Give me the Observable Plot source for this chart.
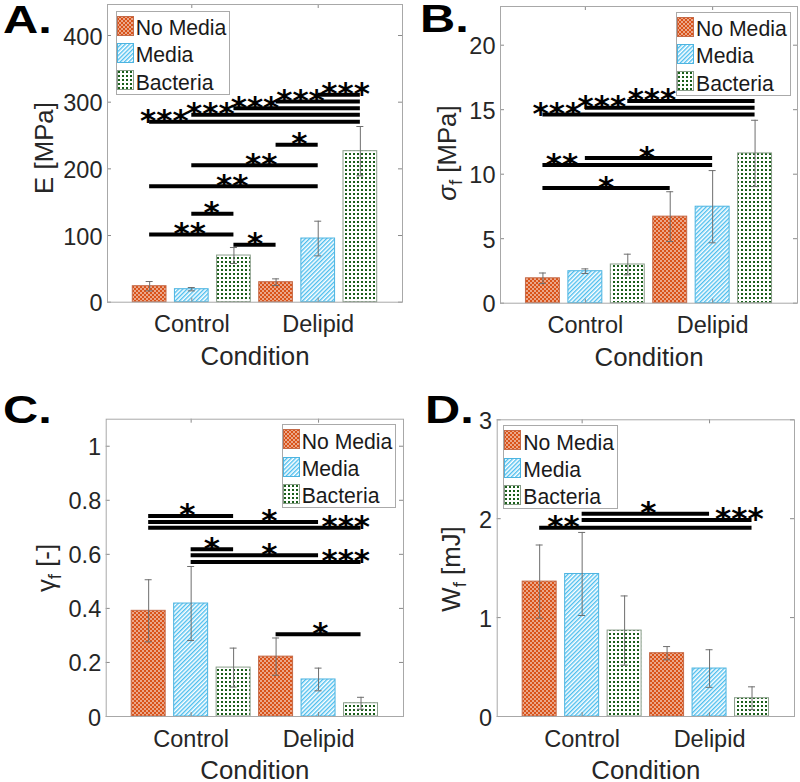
<!DOCTYPE html>
<html><head><meta charset="utf-8">
<script src="https://cdn.jsdelivr.net/npm/d3@7"></script>
<script src="https://cdn.jsdelivr.net/npm/@observablehq/plot@0.6"></script>
<style>
html,body{margin:0;padding:0;background:#fff;}
#fig{position:relative;width:800px;height:782px;overflow:hidden;font-family:"Liberation Sans",Arial,sans-serif;color:#262626;}
.letter{position:absolute;font-weight:bold;font-size:39px;line-height:1;color:#000;transform:scaleX(1.25);transform-origin:left top;white-space:nowrap;}
.ylab{position:absolute;font-size:25.8px;line-height:1;white-space:nowrap;transform:translate(-50%,-50%) rotate(-90deg);color:#262626;}
.ylab sub{font-size:0.72em;vertical-align:baseline;position:relative;top:0.3em;line-height:0;}
.legend{position:absolute;background:#fff;border:1px solid #aaa;box-sizing:border-box;}
.legend .sw{position:absolute;left:0px;}
.legend .lt{position:absolute;left:19px;font-size:21.2px;line-height:1;white-space:nowrap;color:#1a1a1a;}
</style></head>
<body>
<svg width="0" height="0" style="position:absolute;left:0;top:0">
  <defs>
    <pattern id="pat0" patternUnits="userSpaceOnUse" width="4" height="4">
      <rect width="4" height="4" fill="#D95319"/>
      <rect x="0.3" y="0.3" width="1.4" height="1.4" fill="#fff"/>
      <rect x="2.3" y="2.3" width="1.4" height="1.4" fill="#fff"/>
    </pattern>
    <pattern id="pat1" patternUnits="userSpaceOnUse" width="3" height="3" patternTransform="rotate(45)">
      <rect width="3" height="3" fill="#fff"/>
      <rect width="1.4" height="3" fill="#4DBEEE"/>
    </pattern>
    <pattern id="pat2" patternUnits="userSpaceOnUse" width="4" height="4">
      <rect width="4" height="4" fill="#fff"/>
      <rect x="1" y="1" width="2" height="2" fill="#1a5e1a"/>
    </pattern>
  </defs>
</svg>
<div id="fig"></div>
<script>
// ---------- data ----------
const groups = ["No Media", "Media", "Bacteria"];
const conditions = ["Control", "Delipid"];
// bar order: Control (No Media, Media, Bacteria), Delipid (No Media, Media, Bacteria)
const E_mean = [24, 19.5, 70, 30, 95.5, 226.5];
const E_err  = [7, 2.5, 12, 5, 26, 37];
const E_ticks = [0, 100, 200, 300, 400];
// [from bar, to bar, y, label, star position]
const E_sig = [
  [0, 2, 101.5, "**", 0.95], [1, 2, 132.5, "*", 1.47], [2, 3, 86, "*", 2.5],
  [0, 4, 174, "**", 1.96], [1, 4, 205.5, "**", 2.65], [3, 4, 236, "*", 3.55],
  [0, 5, 270.8, "***", 0.35], [1, 5, 281, "***", 1.44], [2, 5, 291, "***", 2.5],
  [3, 5, 301, "***", 3.58], [4, 5, 311, "***", 4.65]
];
const S_mean = [1.93, 2.48, 3.0, 6.71, 7.48, 11.61];
const S_err  = [0.41, 0.18, 0.8, 1.93, 2.8, 2.57];
const S_ticks = [0, 5, 10, 15, 20];
const S_sig = [
  [0, 3, 8.93, "*", 1.49], [0, 4, 10.71, "**", 0.45], [1, 4, 11.25, "*", 2.45],
  [0, 5, 14.63, "***", 0.33], [1, 5, 15.15, "***", 1.39], [2, 5, 15.68, "***", 2.57]
];
const G_mean = [0.391, 0.418, 0.181, 0.2215, 0.137, 0.049];
const G_err  = [0.115, 0.137, 0.072, 0.069, 0.042, 0.022];
const G_ticks = [0, 0.2, 0.4, 0.6, 0.8, 1];
const G_sig = [
  [0, 2, 0.742, "*", 0.91], [0, 4, 0.72, "*", 2.84], [0, 5, 0.698, "***", 4.64],
  [1, 2, 0.619, "*", 1.49], [1, 4, 0.597, "*", 2.84], [1, 5, 0.572, "***", 4.64],
  [3, 5, 0.304, "*", 4.04]
];
const W_mean = [1.364, 1.441, 0.869, 0.64, 0.485, 0.185];
const W_err  = [0.37, 0.42, 0.35, 0.067, 0.19, 0.115];
const W_ticks = [0, 1, 2, 3];
const W_sig = [
  [0, 5, 1.909, "**", 0.56], [1, 4, 2.05, "*", 2.56], [1, 5, 1.987, "***", 4.7]
];

// ---------- layout ----------
const FW = 800, FH = 782;
const xDomain = [-1, 6];
const edge = ["#c46a48", "#4db4e0", "#8a9e8a"];
const fontFam = '"Liberation Sans", Arial, sans-serif';

const panels = [
  {letter: "A.", lx: 3, ly: 0, mean: E_mean, err: E_err, ticks: E_ticks, sig: E_sig, ymax: 446.5,
   left: 107, right: 402, top: 4, bottom: 301.7,
   ylab: 'E [MPa]', ylx: 45, yly: 148, legend: {x: 115.7, y: 10.7}},
  {letter: "B.", lx: 420, ly: -1, mean: S_mean, err: S_err, ticks: S_ticks, sig: S_sig, ymax: 23,
   left: 500, right: 797, top: 6, bottom: 302.7,
   ylab: '<i>σ</i><sub>f</sub> [MPa]', ylx: 448, yly: 153, legend: {x: 676, y: 11.7}},
  {letter: "C.", lx: 3, ly: 390, mean: G_mean, err: G_err, ticks: G_ticks, sig: G_sig, ymax: 1.1,
   left: 105.7, right: 403, top: 418.7, bottom: 716,
   ylab: 'γ<sub>f</sub> [-]', ylx: 47, yly: 568, legend: {x: 281.7, y: 424.3}},
  {letter: "D.", lx: 425, ly: 390, mean: W_mean, err: W_err, ticks: W_ticks, sig: W_sig, ymax: 3,
   left: 496.7, right: 794, top: 419.3, bottom: 716,
   ylab: 'W<sub>f</sub> [mJ]', ylx: 452, yly: 568.5, legend: {x: 503.3, y: 425.3}}
];

const fig = document.getElementById("fig");

function drawPanel(p) {
  const bars = p.mean.map((v, i) => ({i, v, e: p.err[i], g: i % groups.length}));
  const sig = p.sig.map(([a, b, y, lab, sx]) => ({a, b, y, lab, sx}));
  const ppx = (p.right - p.left) / (xDomain[1] - xDomain[0]);
  const ppy = (p.bottom - p.top) / p.ymax;
  const tl = 4;
  const cap = 3.5 / ppx;
  const catPos = conditions.map((c, k) => k * groups.length + 1);
  const marks = [];
  groups.forEach((g, gi) => {
    marks.push(Plot.rect(bars.filter(d => d.g === gi), {
      x1: d => d.i - 0.4, x2: d => d.i + 0.4, y1: 0, y2: "v",
      fill: `url(#pat${gi})`, stroke: edge[gi], strokeWidth: 1
    }));
  });
  marks.push(Plot.ruleX(bars, {x: "i", y1: d => d.v - d.e, y2: d => d.v + d.e, stroke: "#6e6e6e", strokeWidth: 1}));
  marks.push(Plot.ruleY(bars, {x1: d => d.i - cap, x2: d => d.i + cap, y: d => d.v + d.e, stroke: "#6e6e6e", strokeWidth: 1}));
  marks.push(Plot.ruleY(bars, {x1: d => d.i - cap, x2: d => d.i + cap, y: d => d.v - d.e, stroke: "#6e6e6e", strokeWidth: 1}));
  marks.push(Plot.ruleY(sig, {x1: "a", x2: "b", y: "y", stroke: "#000", strokeWidth: 4}));
  marks.push(Plot.text(sig, {x: "sx", y: "y", text: "lab", lineAnchor: "bottom", dy: 9.5, fontSize: 31, fontWeight: "bold", fontFamily: '"DejaVu Sans", sans-serif', fill: "#000"}));
  // ticks (inward, all four sides)
  marks.push(Plot.ruleY(p.ticks, {y: d => d, x1: xDomain[0], x2: xDomain[0] + tl / ppx, stroke: "#8a8a8a"}));
  marks.push(Plot.ruleY(p.ticks, {y: d => d, x1: xDomain[1] - tl / ppx, x2: xDomain[1], stroke: "#8a8a8a"}));
  marks.push(Plot.ruleX(catPos, {x: d => d, y1: 0, y2: tl / ppy, stroke: "#8a8a8a"}));
  marks.push(Plot.ruleX(catPos, {x: d => d, y1: p.ymax - tl / ppy, y2: p.ymax, stroke: "#8a8a8a"}));
  marks.push(Plot.frame({stroke: "#a8a8a8", strokeWidth: 1}));
  // tick labels
  marks.push(Plot.text(p.ticks, {x: xDomain[0], y: d => d, text: d => String(d), textAnchor: "end", dx: -5, dy: 1.5, fontSize: 23.5, fill: "#262626"}));
  marks.push(Plot.text(conditions, {x: (d, k) => catPos[k], text: d => d, frameAnchor: "bottom", lineAnchor: "bottom", dy: 30, fontSize: 23.5, fill: "#262626"}));
  marks.push(Plot.text(["Condition"], {text: d => d, frameAnchor: "bottom", lineAnchor: "bottom", dy: 62.5, fontSize: 25.8, fill: "#262626"}));

  const svg = Plot.plot({
    width: FW, height: FH,
    marginLeft: p.left, marginRight: FW - p.right, marginTop: p.top, marginBottom: FH - p.bottom,
    x: {domain: xDomain, axis: null},
    y: {domain: [0, p.ymax], axis: null},
    style: {position: "absolute", left: "0px", top: "0px", background: "transparent", fontFamily: fontFam, overflow: "visible", maxWidth: "none"},
    marks
  });
  fig.appendChild(svg);
}

panels.forEach(drawPanel);

// y labels, letters, legends (HTML overlays)
panels.forEach(p => {
  const yl = document.createElement("div");
  yl.className = "ylab";
  yl.style.left = p.ylx + "px";
  yl.style.top = p.yly + "px";
  yl.innerHTML = p.ylab;
  fig.appendChild(yl);

  const lt = document.createElement("div");
  lt.className = "letter";
  lt.style.left = p.lx + "px";
  lt.style.top = p.ly + "px";
  lt.textContent = p.letter;
  fig.appendChild(lt);

  const lg = document.createElement("div");
  lg.className = "legend";
  lg.style.left = p.legend.x + "px";
  lg.style.top = p.legend.y + "px";
  lg.style.width = "114.5px";
  lg.style.height = "84px";
  groups.forEach((g, gi) => {
    const top = 4 + gi * 27.3;
    const sw = document.createElementNS("http://www.w3.org/2000/svg", "svg");
    sw.setAttribute("class", "sw");
    sw.setAttribute("width", "17");
    sw.setAttribute("height", "20");
    sw.style.top = top + "px";
    sw.innerHTML = `<rect x="0.5" y="0.5" width="16" height="19" fill="url(#pat${gi})" stroke="${edge[gi]}" stroke-width="1"/>`;
    lg.appendChild(sw);
    const t = document.createElement("div");
    t.className = "lt";
    t.style.top = (top + 1.5) + "px";
    t.textContent = g;
    lg.appendChild(t);
  });
  fig.appendChild(lg);
});
</script>
</body></html>
